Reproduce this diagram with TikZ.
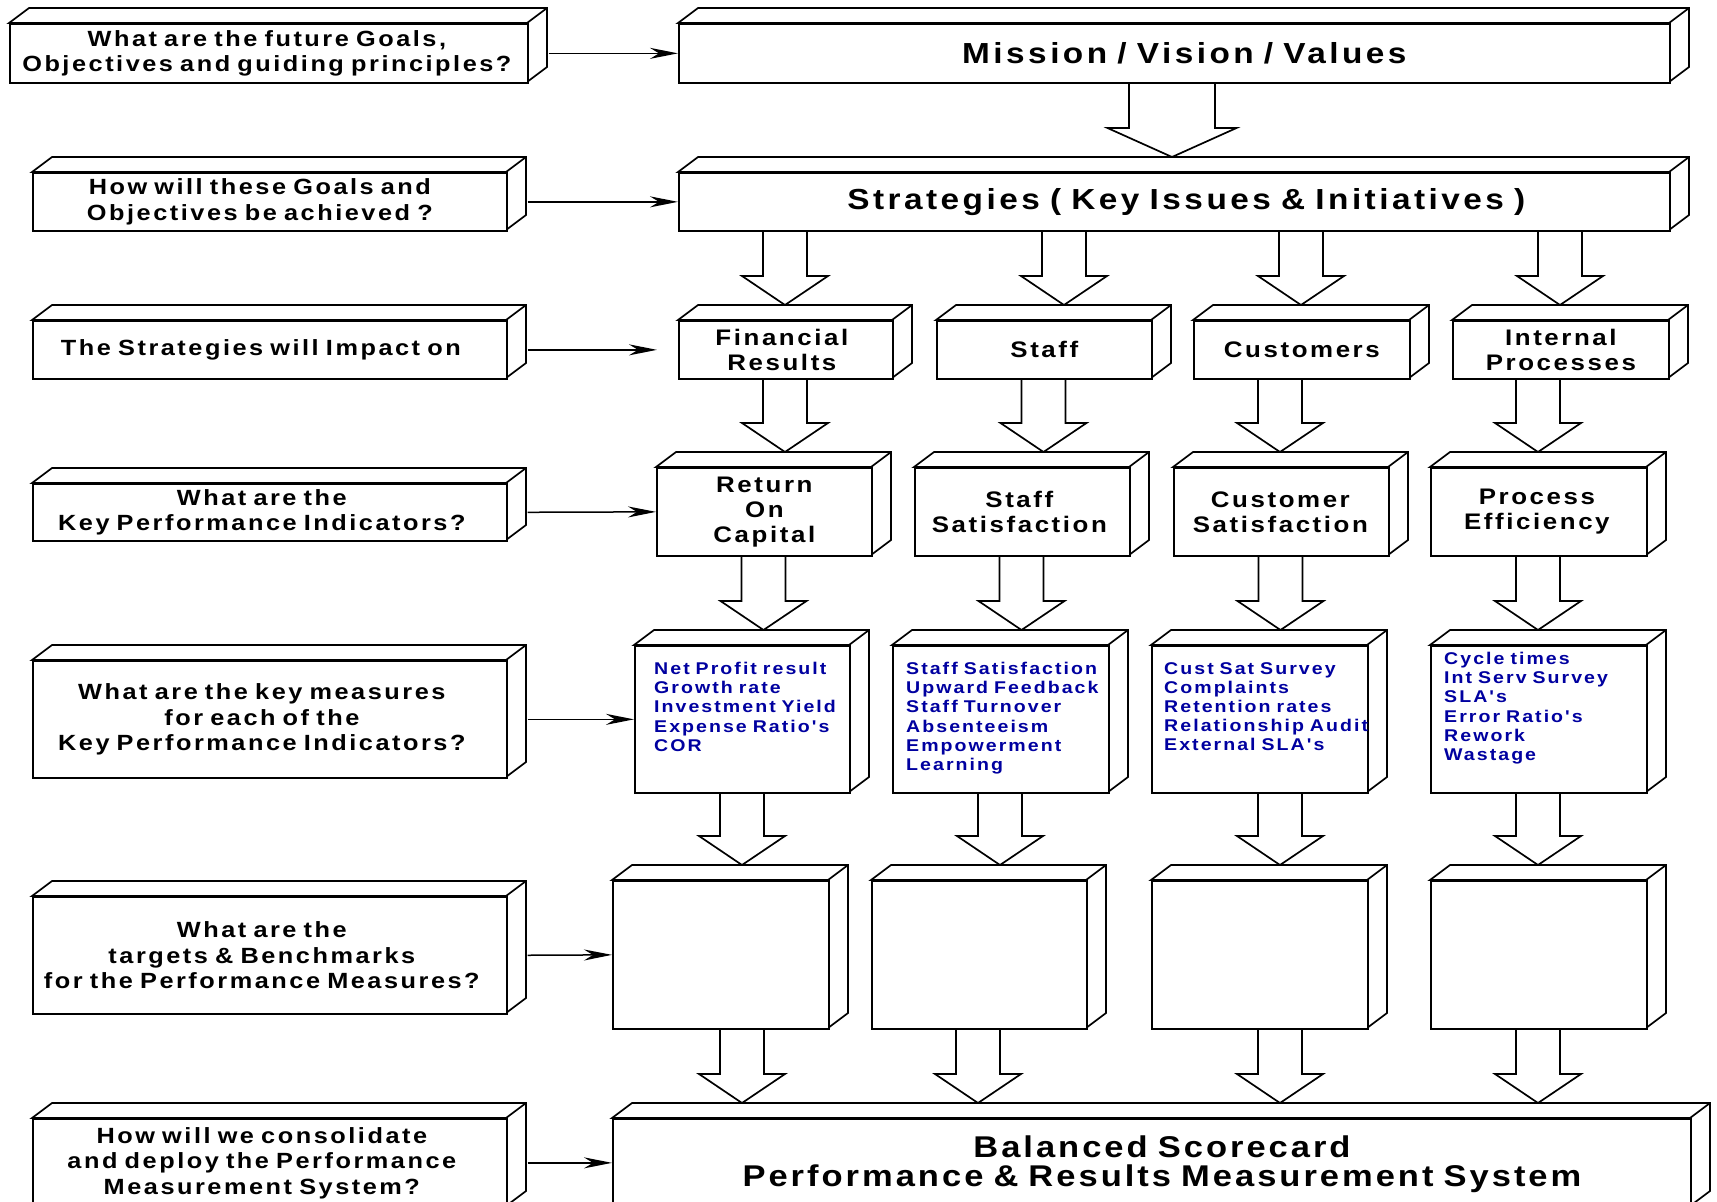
\documentclass[tikz,border=0pt]{standalone}
\usepackage{fontspec}
\setmainfont{Liberation Sans}
\newfontfamily\lblfont{Liberation Sans}[LetterSpace=11.5,WordSpace=0.75,FakeStretch=1.15]
\newfontfamily\titlefont{Liberation Sans}[LetterSpace=12,WordSpace=0.9,FakeStretch=1.15]
\newfontfamily\listfont{Liberation Sans}[LetterSpace=12,WordSpace=0.8,FakeStretch=1.15]
\newfontfamily\bigfont{Liberation Sans}[LetterSpace=10,WordSpace=0.8,FakeStretch=1.15]
\usetikzlibrary{arrows.meta}
\definecolor{listblue}{RGB}{0,0,160}

\tikzset{
  face/.style={draw=black, line width=1.7pt, fill=white, line join=miter},
  frontbox/.style={draw=black, line width=1.7pt, fill=white, inner sep=0pt, anchor=north west},
  qtext/.style={font=\lblfont\bfseries\fontsize{22}{25.5}\selectfont, align=center, inner sep=0pt},
  titletext/.style={font=\titlefont\bfseries\fontsize{29}{32}\selectfont, align=center, inner sep=0pt},
  boxtext/.style={font=\lblfont\bfseries\fontsize{22.5}{25}\selectfont, align=center, inner sep=0pt},
  listtext/.style={font=\listfont\bfseries\fontsize{17}{19.2}\selectfont, text=listblue, align=left, inner sep=0pt, anchor=north west},
  bsctext/.style={font=\bigfont\bfseries\fontsize{30}{29.5}\selectfont, align=center, inner sep=0pt},
  conn/.style={draw=black, line width=1.5pt, -{Stealth[length=28pt, width=11pt, inset=9pt]}},
  blockarrow/.style={draw=black, line width=1.7pt, fill=white, line join=miter},
}

% 3-D box: front face node #1 from (#2,#3) to (#4,#5), depth (20,15) up-right
\newcommand\cuboid[5]{%
  \filldraw[face] (#2,#3) -- (#2+20,#3-15) -- (#4+20,#3-15) -- (#4+20,#5-15) -- (#4,#5) -- (#4,#3) -- cycle;
  \draw[face] (#4,#3) -- (#4+20,#3-15);
  \node[frontbox, minimum width={(#4-#2)*1pt}, minimum height={(#5-#3)*1pt}] (#1) at (#2,#3) {};
}

% hollow block arrow: centre x #1, shaft top #2, tip #3, shaft width #4, head width #5, head length #6
\newcommand\hollowarrow[6]{%
  \draw[blockarrow] (#1-#4/2,#2) -- (#1-#4/2,#3-#6) -- (#1-#5/2,#3-#6) -- (#1,#3)
     -- (#1+#5/2,#3-#6) -- (#1+#4/2,#3-#6) -- (#1+#4/2,#2);
}

\begin{document}
\begin{tikzpicture}[x=1pt, y=-1pt]
\useasboundingbox (0,0) rectangle (1717,1202);
\clip (0,0) rectangle (1717,1202);
\fill[white] (0,0) rectangle (1717,1202);

% flow arrows (drawn first, the boxes sit on their ends)
\hollowarrow{1172}{82}{157}{86}{129}{29}

\hollowarrow{785}{230}{305}{44}{86}{29}
\hollowarrow{1064}{230}{305}{44}{86}{29}
\hollowarrow{1301}{230}{305}{44}{86}{29}
\hollowarrow{1560}{230}{305}{44}{86}{29}

\hollowarrow{785}{378}{452}{44}{86}{29}
\hollowarrow{1043.5}{378}{452}{44}{86}{29}
\hollowarrow{1280}{378}{452}{44}{86}{29}
\hollowarrow{1538}{378}{452}{44}{86}{29}

\hollowarrow{763.5}{555}{630}{44}{86}{29}
\hollowarrow{1021.5}{555}{630}{44}{86}{29}
\hollowarrow{1280.5}{555}{630}{44}{86}{29}
\hollowarrow{1538}{555}{630}{44}{86}{29}

\hollowarrow{742}{792}{865}{44}{86}{29}
\hollowarrow{1000}{792}{865}{44}{86}{29}
\hollowarrow{1280}{792}{865}{44}{86}{29}
\hollowarrow{1538}{792}{865}{44}{86}{29}

\hollowarrow{742}{1028}{1103}{44}{86}{29}
\hollowarrow{978}{1028}{1103}{44}{86}{29}
\hollowarrow{1280}{1028}{1103}{44}{86}{29}
\hollowarrow{1538}{1028}{1103}{44}{86}{29}

% question column
\cuboid{q1}{9}{23}{527}{82}
\cuboid{q2}{32}{172}{506}{230}
\cuboid{q3}{32}{320}{506}{378}
\cuboid{q4}{32}{483}{506}{540}
\cuboid{q5}{32}{660}{506}{777}
\cuboid{q6}{32}{896}{506}{1013}
\cuboid{q7}{32}{1118}{506}{1206}

\node[qtext] (q1t) at ([xshift=-2pt]q1.center) {What are the future Goals,\\Objectives and guiding principles?};
\node[qtext] (q2t) at ([xshift=-10pt]q2.center) {How will these Goals and\\Objectives be achieved ?};
\node[qtext] (q3t) at ([xshift=-9pt]q3.center) {The Strategies will Impact on};
\node[qtext] (q4t) at ([xshift=-8pt]q4.center) {What are the\\Key Performance Indicators?};
\node[qtext] (q5t) at ([xshift=-8pt]q5.center) {What are the key measures\\for each of the\\Key Performance Indicators?};
\node[qtext] (q6t) at ([xshift=-8pt]q6.center) {What are the\\targets \& Benchmarks\\for the Performance Measures?};
\node[qtext] (q7t) at ([xshift=-8pt]q7.center) {How will we consolidate\\and deploy the Performance\\Measurement System?};

% main column
\cuboid{mission}{678}{23}{1669}{82}
\cuboid{strat}{678}{172}{1669}{230}

\cuboid{fin}{678}{320}{892}{378}
\cuboid{staff}{936}{320}{1151}{378}
\cuboid{cust}{1193}{320}{1409}{378}
\cuboid{intp}{1452}{320}{1668}{378}

\cuboid{roc}{656}{467}{871}{555}
\cuboid{ssat}{914}{467}{1129}{555}
\cuboid{csat}{1173}{467}{1388}{555}
\cuboid{peff}{1430}{467}{1646}{555}

\cuboid{m1}{634}{645}{849}{792}
\cuboid{m2}{892}{645}{1108}{792}
\cuboid{m3}{1151}{645}{1367}{792}
\cuboid{m4}{1430}{645}{1646}{792}

\cuboid{t1}{612}{880}{828}{1028}
\cuboid{t2}{871}{880}{1086}{1028}
\cuboid{t3}{1151}{880}{1367}{1028}
\cuboid{t4}{1430}{880}{1646}{1028}

\cuboid{bsc}{612}{1118}{1690}{1206}

\node[titletext] (missiont) at ([xshift=10pt]mission.center) {Mission / Vision / Values};
\node[titletext] (stratt) at ([xshift=12pt]strat.center) {Strategies ( Key Issues \& Initiatives )};

\node[boxtext] (fint) at ([xshift=-4pt]fin.center) {Financial\\Results};
\node[boxtext] (stafft) at (staff.center) {Staff};
\node[boxtext] (custt) at (cust.center) {Customers};
\node[boxtext] (intpt) at (intp.center) {Internal\\Processes};

\node[boxtext] (roct) at (roc.center) {Return\\On\\Capital};
\node[boxtext] (ssatt) at ([xshift=-3pt]ssat.center) {Staff\\Satisfaction};
\node[boxtext] (csatt) at ([xshift=-1pt]csat.center) {Customer\\Satisfaction};
\node[boxtext] (pefft) at ([xshift=-2pt]peff.center) {Process\\Efficiency};

\node[listtext] (m1t) at ([shift={(20,17)}]m1.north west) {Net Profit result\\Growth rate\\Investment Yield\\Expense Ratio's\\COR};
\node[listtext] (m2t) at ([shift={(14,17)}]m2.north west) {Staff Satisfaction\\Upward Feedback\\Staff Turnover\\Absenteeism\\Empowerment\\Learning};
\node[listtext] (m3t) at ([shift={(13,17)}]m3.north west) {Cust Sat Survey\\Complaints\\Retention rates\\Relationship Audit\\External SLA's};
\node[listtext] (m4t) at ([shift={(14,7)}]m4.north west) {Cycle times\\Int Serv Survey\\SLA's\\Error Ratio's\\Rework\\Wastage};

\node[bsctext] (bsct) at (1162,1164) {Balanced Scorecard\\Performance \& Results Measurement System};

% question -> answer connectors
\draw[conn, shorten <=20pt] (q1.east) -- (mission.west);
\draw[conn, shorten <=20pt] (q2.east) -- (strat.west);
\draw[conn, shorten <=20pt, shorten >=21pt] (q3.east) -- (fin.west);
\draw[conn, shorten <=20pt] (q4.east) -- (roc.west);
\draw[conn, shorten <=20pt] (q5.east) -- (m1.west);
\draw[conn, shorten <=20pt] (q6.east) -- (t1.west);
\draw[conn, shorten <=20pt] (q7.east) -- (bsc.west);
\end{tikzpicture}
\end{document}
